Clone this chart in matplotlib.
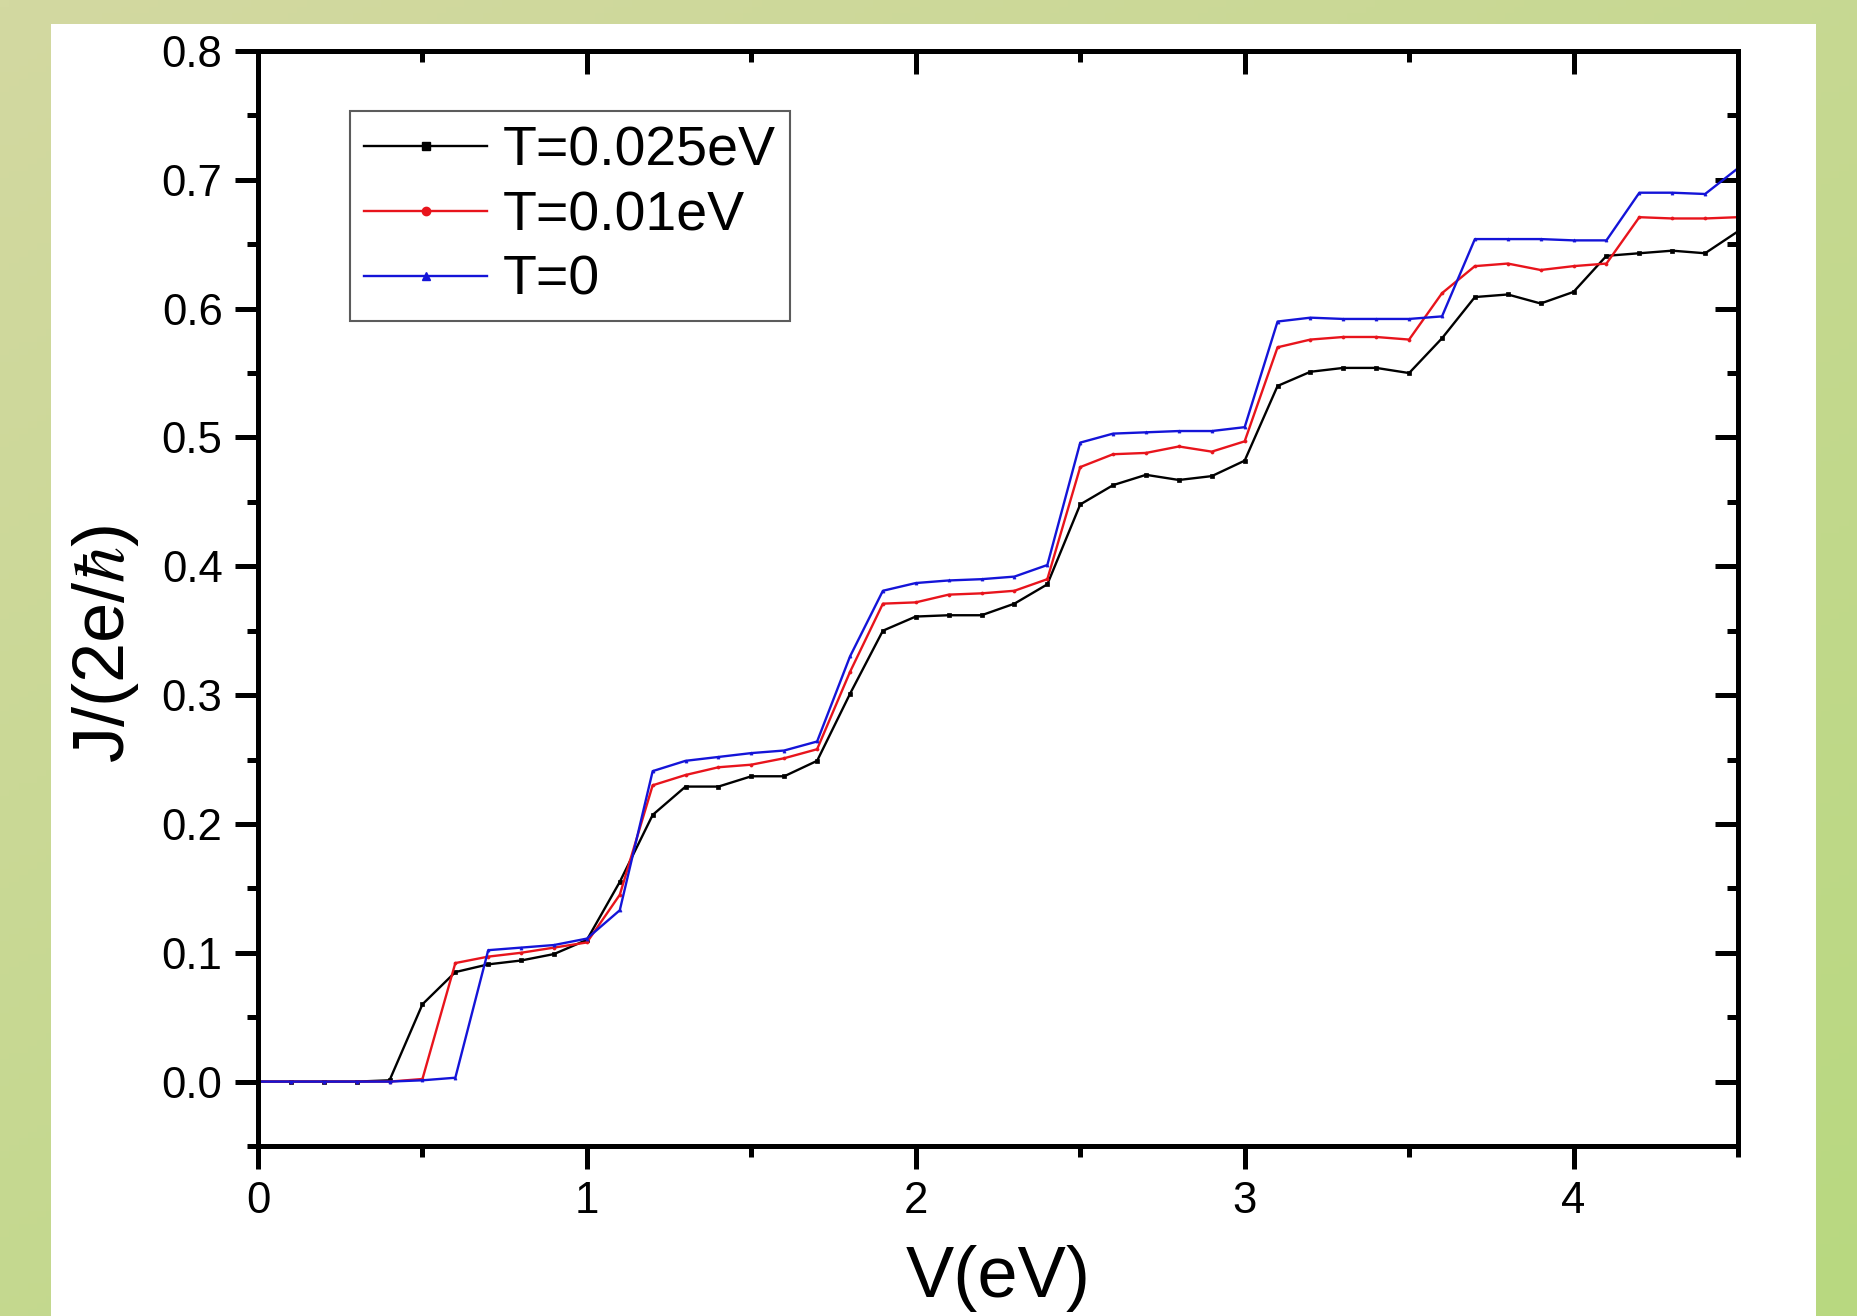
import numpy as np
import matplotlib
matplotlib.use("Agg")
import matplotlib.pyplot as plt
from matplotlib.ticker import MultipleLocator, FormatStrFormatter
from matplotlib.lines import Line2D
from matplotlib.patches import Rectangle

plt.rcParams['font.family'] = ['Liberation Sans', 'DejaVu Sans']
plt.rcParams['mathtext.fontset'] = 'stix'

V = [0.0, 0.1, 0.2, 0.3, 0.4, 0.5, 0.6, 0.7, 0.8, 0.9,
     1.0, 1.1, 1.2, 1.3, 1.4, 1.5, 1.6, 1.7, 1.8, 1.9,
     2.0, 2.1, 2.2, 2.3, 2.4, 2.5, 2.6, 2.7, 2.8, 2.9,
     3.0, 3.1, 3.2, 3.3, 3.4, 3.5, 3.6, 3.7, 3.8, 3.9,
     4.0, 4.1, 4.2, 4.3, 4.4, 4.5]

J_T0025 = [0, 0, 0, 0, 0.001, 0.060, 0.085, 0.091, 0.094, 0.099,
           0.110, 0.155, 0.207, 0.229, 0.229, 0.237, 0.237, 0.249, 0.301, 0.350,
           0.361, 0.362, 0.362, 0.371, 0.386, 0.448, 0.463, 0.471, 0.467, 0.470,
           0.482, 0.540, 0.551, 0.554, 0.554, 0.550, 0.577, 0.609, 0.611, 0.604,
           0.613, 0.641, 0.643, 0.645, 0.643, 0.660]

J_T001 = [0, 0, 0, 0, 0, 0.002, 0.092, 0.097, 0.100, 0.104,
          0.108, 0.145, 0.230, 0.238, 0.244, 0.246, 0.251, 0.258, 0.318, 0.371,
          0.372, 0.378, 0.379, 0.381, 0.390, 0.477, 0.487, 0.488, 0.493, 0.489,
          0.497, 0.570, 0.576, 0.578, 0.578, 0.576, 0.612, 0.633, 0.635, 0.630,
          0.633, 0.635, 0.671, 0.670, 0.670, 0.671]

J_T0 = [0, 0, 0, 0, 0, 0.001, 0.003, 0.102, 0.104, 0.106,
        0.111, 0.133, 0.241, 0.249, 0.252, 0.255, 0.257, 0.264, 0.330, 0.381,
        0.387, 0.389, 0.390, 0.392, 0.401, 0.496, 0.503, 0.504, 0.505, 0.505,
        0.508, 0.590, 0.593, 0.592, 0.592, 0.592, 0.594, 0.654, 0.654, 0.654,
        0.653, 0.653, 0.690, 0.690, 0.689, 0.709]

labels = ['T=0.025eV', 'T=0.01eV', 'T=0']
colors = ['#000000', '#e8141c', '#1414d8']
markers = ['s', 'o', '^']

W, H = 1858, 1316
fig = plt.figure(figsize=(W / 100, H / 100), dpi=100)

# background gradient
bg = fig.add_axes([0, 0, 1, 1], zorder=-10)
bg.set_axis_off()
yy, xx = np.mgrid[0:1:200j, 0:1:200j]
t = np.clip(0.55 * yy + 0.45 * xx, 0, 1)
c0 = np.array([211, 217, 161]) / 255.0
c1 = np.array([184, 216, 128]) / 255.0
img = c0[None, None, :] * (1 - t[..., None]) + c1[None, None, :] * t[..., None]
bg.imshow(img, extent=[0, 1, 0, 1], aspect='auto', origin='upper')
bg.add_patch(Rectangle((51 / W, 0), (1816 - 51) / W, (H - 24) / H,
                       transform=bg.transAxes, facecolor='white', edgecolor='none'))
bg.set_xlim(0, 1)
bg.set_ylim(0, 1)

left, right, top, bottom = 258, 1738, 51, 1146
ax = fig.add_axes([left / W, (H - bottom) / H, (right - left) / W, (bottom - top) / H])
ax.set_facecolor('none')

for y, c, m, lab in zip([J_T0025, J_T001, J_T0], colors, markers, labels):
    ax.plot(V, y, color=c, lw=1.7, marker=m, ms=2.2, mew=0.5, label=lab)

ax.set_xlim(0, 4.5)
ax.set_ylim(-0.05, 0.8)
ax.xaxis.set_major_locator(MultipleLocator(1))
ax.xaxis.set_minor_locator(MultipleLocator(0.5))
ax.yaxis.set_major_locator(MultipleLocator(0.1))
ax.yaxis.set_minor_locator(MultipleLocator(0.05))
ax.yaxis.set_major_formatter(FormatStrFormatter('%.1f'))
ax.xaxis.set_major_formatter(FormatStrFormatter('%d'))

lw_sp = 3.6
for s in ax.spines.values():
    s.set_linewidth(lw_sp)
ax.tick_params(which='major', direction='out', length=16.5, width=lw_sp,
               labelsize=31.5, pad=9)
ax.tick_params(which='minor', direction='out', length=8, width=lw_sp)
ax.tick_params(top=False, right=False, which='both')

secx = ax.secondary_xaxis('top')
secx.xaxis.set_major_locator(MultipleLocator(1))
secx.xaxis.set_minor_locator(MultipleLocator(0.5))
secx.tick_params(which='major', direction='in', length=16.5, width=lw_sp, labeltop=False)
secx.tick_params(which='minor', direction='in', length=8, width=lw_sp)
secx.spines['top'].set_linewidth(lw_sp)

secy = ax.secondary_yaxis('right')
secy.yaxis.set_major_locator(MultipleLocator(0.1))
secy.yaxis.set_minor_locator(MultipleLocator(0.05))
secy.tick_params(which='major', direction='in', length=16.5, width=lw_sp, labelright=False)
secy.tick_params(which='minor', direction='in', length=8, width=lw_sp)
secy.spines['right'].set_linewidth(lw_sp)

ax.set_xlabel('V(eV)', fontsize=52, labelpad=16)
ax.set_ylabel(r'J/(2e/$\hbar$)', fontsize=52)
ax.yaxis.set_label_coords((141 - left) / (right - left), (bottom - 644) / (bottom - top))

handles = [Line2D([], [], color=c, lw=1.7, marker=m, ms=6) for c, m in zip(colors, markers)]
leg = ax.legend(handles, labels, loc='upper left', bbox_to_anchor=((350 - left) / (right - left),
                (bottom - 111) / (bottom - top)), fontsize=40, frameon=True, fancybox=False,
                edgecolor='#333333', handlelength=2.2, handletextpad=0.29,
                labelspacing=0.23, borderpad=0.26, borderaxespad=0)
leg.get_frame().set_linewidth(1.5)

fig.savefig('out.png', dpi=100)
